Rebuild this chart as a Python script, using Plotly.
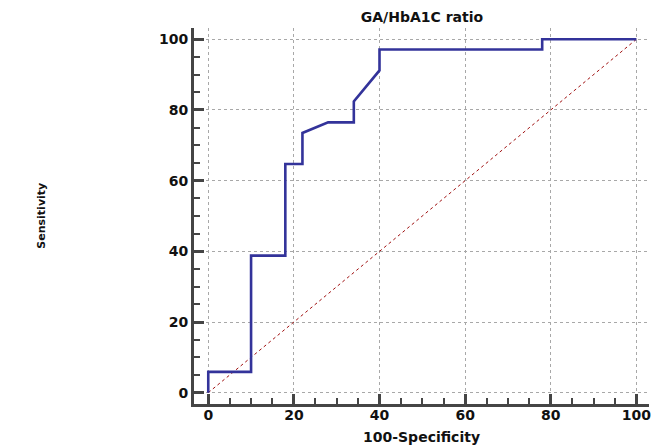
import plotly.graph_objects as go

# ROC curve points (100-Specificity, Sensitivity)
fpr = [0, 0, 10, 10, 18, 18, 22, 22, 28, 34, 34, 40, 40, 78, 78, 100]
tpr = [0, 5.9, 5.9, 38.8, 38.8, 64.7, 64.7, 73.5, 76.5, 76.5, 82.4, 91.2, 97.1, 97.1, 100, 100]
ref_x = [0, 100]
ref_y = [0, 100]
tick_vals = [0, 20, 40, 60, 80, 100]
title_text = "GA/HbA1C ratio"
x_title = "100-Specificity"
y_title = "Sensitivity"

FONT = "DejaVu Sans"
AXC = "#454545"

fig = go.Figure()
fig.add_trace(go.Scatter(x=ref_x, y=ref_y, mode="lines",
                         line=dict(color="#a01010", width=1, dash="dot"),
                         hoverinfo="skip", showlegend=False))
fig.add_trace(go.Scatter(x=fpr, y=tpr, mode="lines",
                         line=dict(color="#33339a", width=2.6),
                         showlegend=False))

axis_common = dict(
    tickvals=tick_vals,
    showgrid=True, gridcolor="#a8a8a8", griddash="dot", gridwidth=1,
    zeroline=False,
    showline=True, linecolor=AXC, linewidth=3,
    ticks="inside", ticklen=10, tickwidth=3, tickcolor=AXC,
    minor=dict(dtick=5, ticks="inside", ticklen=6, tickwidth=1.5, tickcolor=AXC, showgrid=False),
    tickfont=dict(family=FONT, size=14, color="#111111", weight="bold"),
    ticklabeloverflow="allow",
    fixedrange=True,
)

fig.update_xaxes(range=[-3.33, 102.95], ticklabelstandoff=-4, **axis_common)
fig.update_yaxes(range=[-3.2, 103.2], ticklabelstandoff=0, **axis_common)

fig.update_layout(
    width=651, height=446,
    margin=dict(l=194, r=0, t=28, b=42),
    plot_bgcolor="white", paper_bgcolor="white",
    title=dict(text=title_text, x=(423 - 194) / 457, xref="paper", xanchor="center",
               y=1 - 17 / 446, yanchor="middle",
               font=dict(family=FONT, size=14, color="#111111", weight="bold")),
    annotations=[
        dict(text=x_title, xref="paper", yref="paper", x=(423 - 194) / 457, y=-(437 - 404) / 376,
             xanchor="center", yanchor="middle", showarrow=False,
             font=dict(family=FONT, size=14, color="#111111", weight="bold")),
        dict(text=y_title, xref="paper", yref="paper", x=(40 - 194) / 457, y=0.5,
             xanchor="center", yanchor="middle", textangle=-90, showarrow=False,
             font=dict(family=FONT, size=11, color="#111111", weight="bold")),
    ],
)

fig.write_html("out.html", config={"displayModeBar": False},
               post_script="document.body.style.margin='0';document.body.style.overflow='hidden';")
